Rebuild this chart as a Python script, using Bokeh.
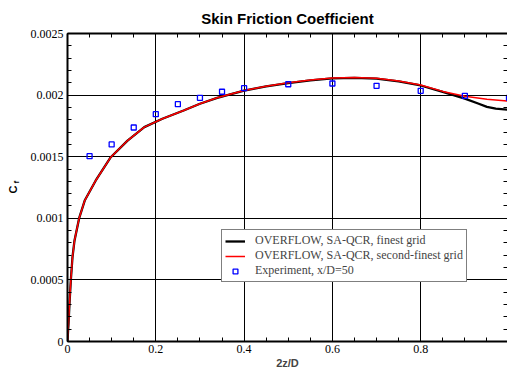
import numpy as np
from bokeh.plotting import figure
from bokeh.models import (Range1d, FixedTicker, LinearAxis, Legend, LegendItem,
                          Title, Grid, CustomLabelingPolicy)
from bokeh.embed import file_html
from bokeh.resources import INLINE

# OVERFLOW, SA-QCR, finest grid
x_fine = [0, 0.001, 0.0023, 0.0045, 0.0075, 0.0113, 0.0159, 0.0264, 0.039, 0.064,
          0.098, 0.136, 0.174, 0.215, 0.263, 0.3, 0.339, 0.4, 0.45, 0.5, 0.55,
          0.6, 0.65, 0.7, 0.75, 0.8, 0.85, 0.9, 0.93, 0.95, 0.97, 1.0]
cf_fine = [0, 0.00007, 0.000144, 0.000306, 0.000495, 0.000684, 0.00082, 0.001001,
           0.001144, 0.001307, 0.001496, 0.001631, 0.00174, 0.001808, 0.001875,
           0.00193, 0.001978, 0.002037, 0.00207, 0.002098, 0.00212, 0.002135,
           0.00214, 0.002133, 0.002112, 0.002078, 0.002026, 0.001972, 0.001932,
           0.001905, 0.00189, 0.00188]
# OVERFLOW, SA-QCR, second-finest grid
x_second = [0, 0.001, 0.0023, 0.0045, 0.0075, 0.0113, 0.0159, 0.0264, 0.039, 0.064,
            0.098, 0.136, 0.174, 0.215, 0.263, 0.3, 0.339, 0.4, 0.45, 0.5, 0.55,
            0.6, 0.65, 0.7, 0.75, 0.8, 0.85, 0.9, 0.95, 1.0]
cf_second = [0, 0.00007, 0.000144, 0.000306, 0.000495, 0.000684, 0.00082, 0.001001,
             0.001144, 0.001307, 0.001496, 0.001631, 0.00174, 0.001808, 0.001875,
             0.00193, 0.001978, 0.002037, 0.002072, 0.0021, 0.002123, 0.002138,
             0.002143, 0.002136, 0.002115, 0.002082, 0.00203, 0.00199, 0.001967,
             0.00195]
# Experiment, x/D=50
x_exp = [0.05, 0.1, 0.15, 0.2, 0.25, 0.3, 0.35, 0.4, 0.5, 0.6, 0.7, 0.8, 0.9, 1.0]
cf_exp = [0.001504, 0.0016, 0.001737, 0.001845, 0.001926, 0.001978, 0.002027,
          0.002056, 0.002088, 0.002094, 0.002075, 0.002035, 0.001994, 0.001978]

x_ticks = [0, 0.2, 0.4, 0.6, 0.8, 1.0]
x_tick_labels = ["0", "0.2", "0.4", "0.6", "0.8", "1"]
y_ticks = [0, 0.0005, 0.001, 0.0015, 0.002, 0.0025]
y_tick_labels = ["0", "0.0005", "0.001", "0.0015", "0.002", "0.0025"]
x_minor = [round(0.05 * i, 4) for i in range(21)]
y_minor = [round(0.0001 * i, 6) for i in range(26)]

SERIF = "Liberation Serif"
SANS = "Liberation Sans"

p = figure(frame_width=440, frame_height=308,
           x_range=Range1d(0, 0.9966), y_range=Range1d(0, 0.0025),
           output_backend="svg", toolbar_location=None,
           x_axis_type=None, y_axis_type=None,
           min_border_left=67, min_border_right=0,
           min_border_top=33, min_border_bottom=34)
p.outline_line_color = None
p.background_fill_color = "white"
p.border_fill_color = "white"

p.title.text = "Skin Friction Coefficient"
p.title.align = "center"
p.title.text_font = SANS
p.title.text_font_style = "bold"
p.title.text_font_size = "15px"
p.title.text_color = "black"
p.title.standoff = -8

xt = FixedTicker(ticks=x_ticks, minor_ticks=x_minor)
yt = FixedTicker(ticks=y_ticks, minor_ticks=y_minor)

p.add_layout(Grid(dimension=0, ticker=xt, grid_line_color="black", grid_line_width=1))
p.add_layout(Grid(dimension=1, ticker=yt, grid_line_color="black", grid_line_width=1))


def style_axis(ax, labels):
    ax.axis_line_width = 2
    ax.axis_line_color = "black"
    ax.major_tick_in = 8
    ax.major_tick_out = 0
    ax.minor_tick_in = 4
    ax.minor_tick_out = 0
    ax.major_tick_line_color = "black"
    ax.minor_tick_line_color = "black"
    if labels is None:
        ax.major_label_policy = CustomLabelingPolicy(code="return new Set()")
        ax.major_label_standoff = 0
    else:
        ax.major_label_overrides = labels
        ax.major_label_text_font = SERIF
        ax.major_label_text_font_size = "12px"
        ax.major_label_text_color = "black"
    return ax


xlab = {t: l for t, l in zip(x_ticks, x_tick_labels)}
ylab = {t: l for t, l in zip(y_ticks, y_tick_labels)}

bottom = style_axis(LinearAxis(ticker=xt), xlab)
bottom.major_label_standoff = 3
bottom.axis_label = "2z/D"
bottom.axis_label_text_font = SANS
bottom.axis_label_text_font_style = "bold"
bottom.axis_label_text_font_size = "11px"
bottom.axis_label_standoff = 1
p.add_layout(bottom, "below")

left = style_axis(LinearAxis(ticker=yt), ylab)
left.major_label_standoff = 4
p.add_layout(left, "left")

# y-axis title C_f: subscript "f" next to the axis, "C" further out
p.add_layout(Title(text="f", align="left", offset=158, standoff=14,
                   text_font=SANS, text_font_style="bold",
                   text_font_size="8px", text_color="black"), "left")
p.add_layout(Title(text="C", align="left", offset=148, standoff=-33,
                   text_font=SANS, text_font_style="bold",
                   text_font_size="11px", text_color="black"), "left")

top = style_axis(LinearAxis(ticker=xt), None)
p.add_layout(top, "above")

right = style_axis(LinearAxis(ticker=yt), None)
right.axis_line_color = None
p.add_layout(right, "right")

r_fine = p.line(x_fine, cf_fine, line_color="black", line_width=2.3)
r_second = p.line(x_second, cf_second, line_color="#ff0000", line_width=1.5)
r_exp = p.scatter(x_exp, cf_exp, marker="square", size=5, line_color="#0000ff",
                  fill_color=None, line_width=1.3)

legend = Legend(items=[
    LegendItem(label="OVERFLOW, SA-QCR, finest grid", renderers=[r_fine]),
    LegendItem(label="OVERFLOW, SA-QCR, second-finest grid", renderers=[r_second]),
    LegendItem(label="Experiment, x/D=50", renderers=[r_exp]),
], location=(154, 59))
legend.label_text_font = SERIF
legend.label_text_font_size = "12px"
legend.label_height = 12
legend.glyph_height = 12
legend.glyph_width = 20
legend.label_standoff = 10
legend.spacing = 0
legend.padding = 3
legend.margin = 0
legend.border_line_color = "black"
legend.border_line_width = 1
legend.background_fill_alpha = 1
p.add_layout(legend)

open("out.html", "w").write(file_html(p, INLINE))
